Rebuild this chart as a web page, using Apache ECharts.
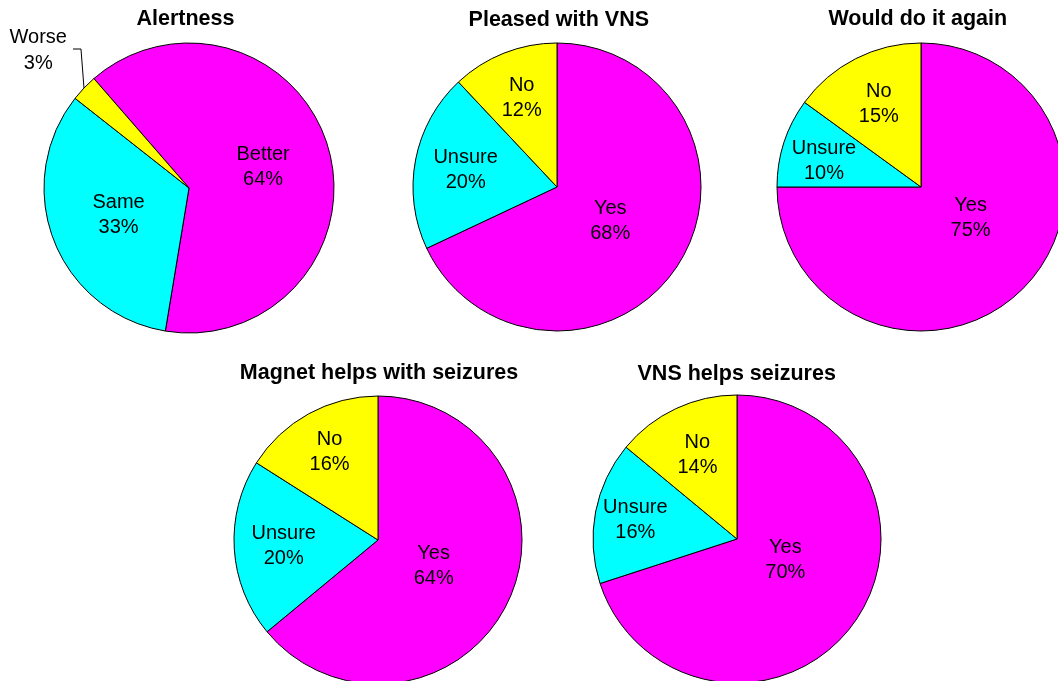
<!DOCTYPE html>
<html>
<head>
<meta charset="utf-8">
<title>VNS survey</title>
<script src="https://cdn.jsdelivr.net/npm/echarts@6/dist/echarts.min.js"></script>
<style>
  html, body { margin: 0; padding: 0; background: #fff; }
  #chart { width: 1058px; height: 681px; }
</style>
</head>
<body>
<div id="chart"></div>
<script>
// data
const titles = ['Alertness', 'Pleased with VNS', 'Would do it again', 'Magnet helps with seizures', 'VNS helps seizures'];
const alertnessNames = ['Better', 'Same', 'Worse'];
const alertnessValues = [64, 33, 3];
const answerNames = ['Yes', 'Unsure', 'No'];
const pleasedValues = [68, 20, 12];
const againValues = [75, 10, 15];
const magnetValues = [64, 20, 16];
const vnsHelpsValues = [70, 16, 14];

// layout / style
const sliceColors = ['#FF00FF', '#00FFFF', '#FFFF00'];
const pieCenters = [[189, 188], [557, 187], [921, 187], [378, 540], [737, 539]];
const pieRadii = [145, 144, 144, 144, 144];
const startAngles = [131, 90, 90, 90, 90];
const titlePos = [[185.5, 8], [558.8, 9], [917.8, 8.5], [379, 362], [736.7, 363]];
// label distance from centre as a fraction of radius (Excel-like placement)
const labelFrac = [[0.51, 0.50, null], [0.42, 0.62, 0.64], [0.39, 0.67, 0.62], [0.41, 0.63, 0.67], [0.35, 0.69, 0.62]];
// small clockwise turn (degrees) of a label away from the slice's mid angle
const labelTurn = [[0, 0, 0], [0, 0, 0], [-13, -3, 0], [0, 0, 0], [-13, 0, 0]];

const FONT = '"Liberation Sans", Arial, sans-serif';

const chart = echarts.init(document.getElementById('chart'));

function makeData(names, values) {
  return names.map((n, i) => ({ name: n, value: values[i], itemStyle: { color: sliceColors[i] } }));
}

const pieData = [
  makeData(alertnessNames, alertnessValues),
  makeData(answerNames, pleasedValues),
  makeData(answerNames, againValues),
  makeData(answerNames, magnetValues),
  makeData(answerNames, vnsHelpsValues)
];

// the tiny "Worse" slice gets an outside label with a leader line
pieData[0][2].label = { position: 'outside', lineHeight: 26 };
pieData[0][2].labelLine = { show: true, length: 20, length2: 8, lineStyle: { color: '#000', width: 1 } };

function labelLayoutFor(si) {
  return function (params) {
    const f = labelFrac[si][params.dataIndex];
    const rect = params.labelRect;
    if (f == null) {
      // outside label: go straight up from the edge, then a short step left
      const pts = params.labelLinePoints;
      const p0 = pts ? pts[0] : [83, 89];
      const p1 = [p0[0] - 3, p0[1] - 39];
      const p2 = [p1[0] - 8, p1[1]];
      return {
        x: p2[0] - 6 - rect.width / 2,
        y: p2[1] + 1,
        align: 'center',
        verticalAlign: 'middle',
        labelLinePoints: [p0, p1, p2]
      };
    }
    const c = pieCenters[si];
    const k = f / 0.5;
    const vx = (rect.x + rect.width / 2 - c[0]) * k;
    const vy = (rect.y + rect.height / 2 - c[1]) * k;
    const t = labelTurn[si][params.dataIndex] * Math.PI / 180;
    return {
      x: c[0] + vx * Math.cos(t) - vy * Math.sin(t),
      y: c[1] + vx * Math.sin(t) + vy * Math.cos(t),
      align: 'center',
      verticalAlign: 'middle'
    };
  };
}

const series = pieData.map((data, si) => ({
  type: 'pie',
  center: pieCenters[si],
  radius: pieRadii[si],
  startAngle: startAngles[si],
  clockwise: true,
  avoidLabelOverlap: false,
  animation: false,
  silent: true,
  itemStyle: { borderColor: '#000', borderWidth: 1 },
  label: {
    show: true,
    position: 'inside',
    formatter: '{b}\n{c}%',
    color: '#000',
    fontFamily: FONT,
    fontSize: 20,
    lineHeight: 25,
    align: 'center'
  },
  labelLine: { show: false },
  labelLayout: labelLayoutFor(si),
  emphasis: { disabled: true },
  data: data
}));

chart.setOption({
  backgroundColor: '#fff',
  animation: false,
  title: titles.map((t, i) => ({
    text: t,
    left: titlePos[i][0],
    top: titlePos[i][1],
    textAlign: 'center',
    padding: 0,
    textStyle: { fontFamily: FONT, fontSize: 21.5, fontWeight: 'bold', color: '#000' }
  })),
  series: series
});
</script>
</body>
</html>
